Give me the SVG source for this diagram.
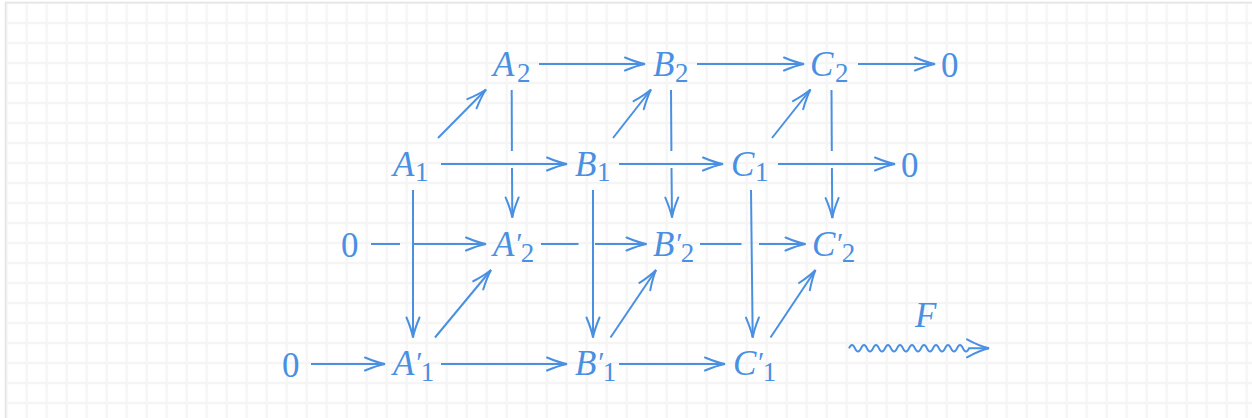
<svg xmlns="http://www.w3.org/2000/svg" width="1252" height="418" viewBox="0 0 1252 418">
<style>
.t{font-family:"Liberation Serif","Times New Roman",serif;fill:#4A90E2;font-size:35px}
.i{font-style:italic}
.s{font-size:27px;font-style:normal}
.p{font-size:29px}
.c line,.c polyline,.c path{stroke:#4A90E2;stroke-width:2;fill:none}
</style>
<defs>
<pattern id="grid" patternUnits="userSpaceOnUse" x="-3.3" y="-7" width="20" height="20">
<path d="M10 0V20M0 10H20" stroke="#f5f5f5" stroke-width="2.5" fill="none"/>
</pattern>
<marker id="ah" markerUnits="userSpaceOnUse" markerWidth="30" markerHeight="30" viewBox="-25 -15 30 30" refX="0" refY="0" orient="auto" overflow="visible">
<path d="M-20,-6.5 Q-8,-1.5 0,0 Q-8,1.5 -20,6.5" stroke="#4A90E2" stroke-width="2" fill="none" stroke-linecap="round"/>
</marker>
<marker id="ahb" markerUnits="userSpaceOnUse" markerWidth="30" markerHeight="30" viewBox="-25 -15 30 30" refX="0" refY="0" orient="auto" overflow="visible">
<path d="M-22,-9 Q-9,-2 0,0 Q-9,2 -22,9" stroke="#4A90E2" stroke-width="2" fill="none" stroke-linecap="round"/>
</marker>
</defs>
<rect x="0" y="0" width="1252" height="418" fill="#ffffff"/>
<rect x="5.5" y="2.5" width="1260" height="430" fill="url(#grid)" stroke="#e4e4e4" stroke-width="1.5"/>

<g class="c" id="connectors">
<line x1="539" y1="64" x2="645" y2="64" marker-end="url(#ah)"/>
<line x1="697" y1="64" x2="804" y2="64" marker-end="url(#ah)"/>
<line x1="858" y1="64" x2="935" y2="64" marker-end="url(#ah)"/>
<line x1="438" y1="138" x2="486" y2="89.5" marker-end="url(#ah)"/>
<line x1="613" y1="138" x2="651" y2="89.5" marker-end="url(#ah)"/>
<line x1="772" y1="138" x2="810.5" y2="89.5" marker-end="url(#ah)"/>
<line x1="511.7" y1="90" x2="511.9" y2="151"/>
<line x1="512" y1="168" x2="512.3" y2="217.5" marker-end="url(#ah)"/>
<line x1="671" y1="90" x2="671.4" y2="151"/>
<line x1="671.5" y1="168" x2="672" y2="217.5" marker-end="url(#ah)"/>
<line x1="831.5" y1="90" x2="831.8" y2="151"/>
<line x1="831.9" y1="168" x2="832.3" y2="218" marker-end="url(#ah)"/>
<line x1="441" y1="164" x2="567" y2="164" marker-end="url(#ah)"/>
<line x1="619" y1="164" x2="723" y2="164" marker-end="url(#ah)"/>
<line x1="778" y1="164" x2="895" y2="164" marker-end="url(#ah)"/>
<line x1="413" y1="190" x2="413" y2="337.5" marker-end="url(#ah)"/>
<line x1="593" y1="190" x2="593" y2="337.5" marker-end="url(#ah)"/>
<line x1="751" y1="190" x2="752.7" y2="337.5" marker-end="url(#ah)"/>
<line x1="371" y1="244" x2="400" y2="244"/>
<line x1="414" y1="244" x2="486" y2="244" marker-end="url(#ah)"/>
<line x1="541" y1="244" x2="578.5" y2="244"/>
<line x1="595" y1="244" x2="646.5" y2="244" marker-end="url(#ah)"/>
<line x1="700" y1="244" x2="741.5" y2="244"/>
<line x1="759" y1="244" x2="805.5" y2="244" marker-end="url(#ah)"/>
<line x1="435" y1="337.5" x2="491" y2="270" marker-end="url(#ah)"/>
<line x1="610.5" y1="337.5" x2="656" y2="270" marker-end="url(#ah)"/>
<line x1="770.5" y1="337.5" x2="815.5" y2="270" marker-end="url(#ah)"/>
<line x1="311" y1="364" x2="385" y2="364" marker-end="url(#ah)"/>
<line x1="441" y1="364" x2="567" y2="364" marker-end="url(#ah)"/>
<line x1="619" y1="364" x2="725" y2="364" marker-end="url(#ah)"/>
<path d="M849,348.3 q3,-6.5 6,0 t6,0 t6,0 t6,0 t6,0 t6,0 t6,0 t6,0 t6,0 t6,0 t6,0 t6,0 t6,0 t6,0 t6,0 t6,0 t6,0 t6,0 t6,0 t6,0 l20,0" marker-end="url(#ahb)"/>
</g>

<g id="A2"><text class="t i" x="493" y="76">A<tspan class="s" x="517" y="82">2</tspan></text></g>
<g id="B2"><text class="t i" x="653" y="76">B<tspan class="s" x="675" y="82">2</tspan></text></g>
<g id="C2"><text class="t i" x="810" y="76">C<tspan class="s" x="835" y="82">2</tspan></text></g>
<g id="Z2"><text class="t" x="941" y="77">0</text></g>
<g id="A1"><text class="t i" x="393" y="176">A<tspan class="s" x="415" y="181">1</tspan></text></g>
<g id="B1"><text class="t i" x="575" y="176">B<tspan class="s" x="597" y="181">1</tspan></text></g>
<g id="C1"><text class="t i" x="731" y="176">C<tspan class="s" x="755" y="181">1</tspan></text></g>
<g id="Z1"><text class="t" x="901" y="177">0</text></g>
<g id="Z2p"><text class="t" x="341" y="257">0</text></g>
<g id="A2p"><text class="t i" x="493" y="256">A<tspan class="p" dy="-3">′</tspan><tspan class="s" dy="9">2</tspan></text></g>
<g id="B2p"><text class="t i" x="653" y="256">B<tspan class="p" dy="-3">′</tspan><tspan class="s" dy="9">2</tspan></text></g>
<g id="C2p"><text class="t i" x="812" y="256">C<tspan class="p" dy="-3">′</tspan><tspan class="s" dy="9">2</tspan></text></g>
<g id="Z1p"><text class="t" x="282" y="377">0</text></g>
<g id="A1p"><text class="t i" x="393" y="375">A<tspan class="p" dy="-3">′</tspan><tspan class="s" dy="9">1</tspan></text></g>
<g id="B1p"><text class="t i" x="575" y="375">B<tspan class="p" dy="-3">′</tspan><tspan class="s" dy="9">1</tspan></text></g>
<g id="C1p"><text class="t i" x="733" y="375">C<tspan class="p" dy="-3">′</tspan><tspan class="s" dy="9">1</tspan></text></g>
<g id="F"><text class="t i" x="915" y="327">F</text></g>
</svg>
